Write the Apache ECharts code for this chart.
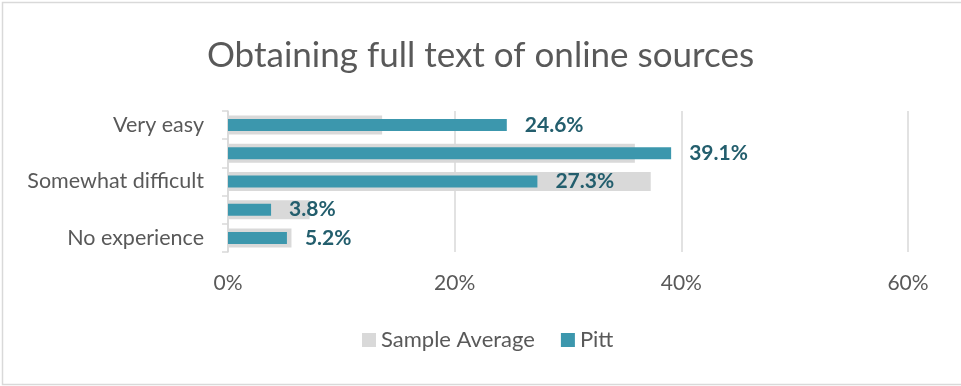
<!DOCTYPE html>
<html>
<head>
<meta charset="utf-8">
<script src="https://cdn.jsdelivr.net/npm/echarts@6/dist/echarts.min.js"></script>
<style>
  html, body { margin: 0; padding: 0; background: #fff; }
  #chart { width: 961px; height: 386px; }
</style>
</head>
<body>
<div id="chart"></div>
<script>
// Response categories, top to bottom
const categories = ['Very easy', 'Somewhat easy', 'Somewhat difficult', 'Very difficult', 'No experience'];
// Share of respondents (%)
const sampleAverage = [13.6, 35.9, 37.3, 7.2, 5.6];
const pitt = [24.6, 39.1, 27.3, 3.8, 5.2];
// Value axis ticks (%)
const xTicks = [0, 20, 40, 60];

const FONT = 'Lato, "Open Sans", sans-serif';
const GREY_TEXT = '#595959';

const chart = echarts.init(document.getElementById('chart'));

const catAxis = (show) => ({
  type: 'category',
  data: categories,
  inverse: true,
  show: show,
  axisLine: { show: show, lineStyle: { color: '#D9D9D9', width: 1.5 } },
  axisTick: { show: show, interval: 0, length: 6, lineStyle: { color: '#D9D9D9', width: 1.5 } },
  axisLabel: {
    show: show,
    interval: 1,
    margin: 24,
    color: GREY_TEXT,
    fontFamily: FONT,
    fontSize: 21.5
  }
});

chart.setOption({
  animation: false,
  title: {
    text: 'Obtaining full text of online sources',
    left: 'center',
    top: 33,
    textStyle: { color: GREY_TEXT, fontFamily: FONT, fontSize: 35, fontWeight: 'normal' }
  },
  legend: {
    data: ['Sample Average', 'Pitt'],
    left: 357,
    top: 324,
    itemWidth: 14,
    itemHeight: 14,
    itemGap: 26,
    icon: 'rect',
    textStyle: { color: GREY_TEXT, fontFamily: FONT, fontSize: 22 }
  },
  grid: { left: 228, right: 53, top: 111, bottom: 134, containLabel: false },
  xAxis: {
    type: 'value',
    min: xTicks[0],
    max: xTicks[xTicks.length - 1],
    interval: xTicks[1] - xTicks[0],
    axisLine: { show: false },
    axisTick: { show: false },
    splitLine: { show: true, lineStyle: { color: '#D9D9D9', width: 1.5 } },
    axisLabel: {
      margin: 21,
      color: GREY_TEXT,
      fontFamily: FONT,
      fontSize: 21,
      formatter: (v) => v + '%'
    }
  },
  yAxis: [catAxis(true), catAxis(false)],
  series: [
    {
      name: 'Sample Average',
      type: 'bar',
      yAxisIndex: 0,
      data: sampleAverage,
      barWidth: 19,
      itemStyle: { color: '#D9D9D9' },
      z: 2
    },
    {
      name: 'Pitt',
      type: 'bar',
      yAxisIndex: 1,
      data: pitt,
      barWidth: 12,
      itemStyle: { color: '#3C97AD' },
      z: 3,
      label: {
        show: true,
        position: 'right',
        distance: 18,
        color: '#235E6D',
        fontFamily: FONT,
        fontSize: 21,
        fontWeight: 'bold',
        formatter: (p) => p.value.toFixed(1) + '%'
      }
    }
  ],
  graphic: [
    {
      type: 'rect',
      silent: true,
      shape: { x: 2.5, y: 2.5, width: 970, height: 382 },
      style: { fill: 'none', stroke: '#D9D9D9', lineWidth: 1.5 }
    }
  ]
});
</script>
</body>
</html>
